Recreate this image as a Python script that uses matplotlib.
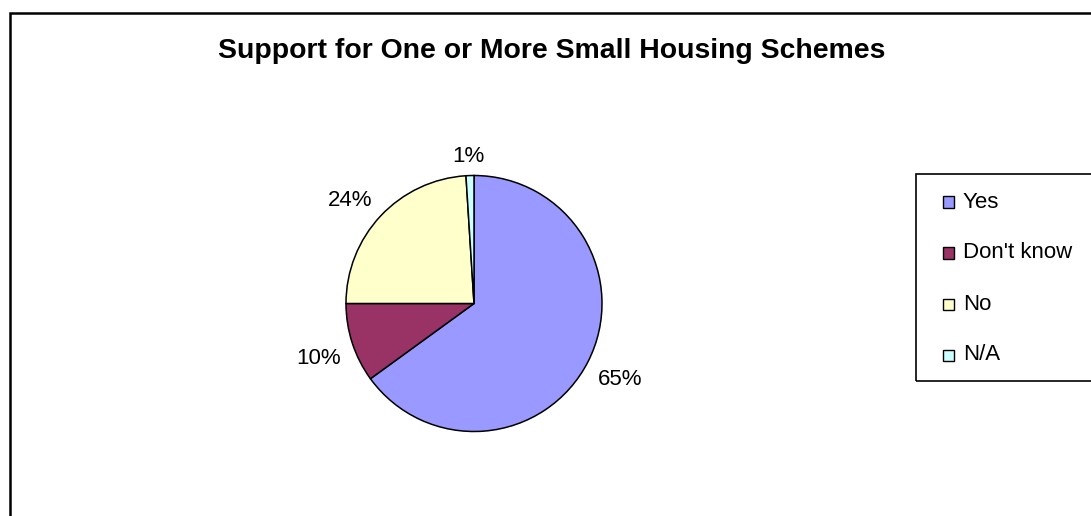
import numpy as np
import matplotlib
matplotlib.use("Agg")
import matplotlib.pyplot as plt
from matplotlib.patches import Rectangle

categories = ["Yes", "Don't know", "No", "N/A"]
shares = [65, 10, 24, 1]
colors = ["#9999FF", "#993366", "#FFFFCC", "#CCFFFF"]
title = "Support for One or More Small Housing Schemes"

plt.rcParams['font.family'] = ['Liberation Sans', 'DejaVu Sans']

W, H = 1091, 516
fig = plt.figure(figsize=(W / 100, H / 100), dpi=100)

def fx(px):
    return px / W

def fy(py):
    return (H - py) / H

# Outer chart border (runs off the right and bottom edges)
fig.add_artist(Rectangle((fx(9.5), fy(530)), fx(1100) - fx(9.5), fy(13) - fy(530),
                         transform=fig.transFigure, fill=False, edgecolor='black',
                         linewidth=1.8, clip_on=False))

fig.text(fx(552), fy(58), title, fontsize=20.4, fontweight='bold',
         ha='center', va='baseline')

# Pie
cx, cy, R = 474, 303.5, 128
ext = 1.6
label_size = 16
ax = fig.add_axes([fx(cx - ext * R), fy(cy + ext * R), 2 * ext * R / W, 2 * ext * R / H])
wedges, texts, autotexts = ax.pie(
    shares, colors=colors, startangle=90, counterclock=False,
    autopct=lambda p: f"{p:.0f}%", pctdistance=1.2,
    wedgeprops=dict(edgecolor='black', linewidth=1.1),
    textprops=dict(fontsize=label_size))
ax.set_xlim(-ext, ext)
ax.set_ylim(-ext, ext)
ax.axis('off')

# Anchor each percentage just outside its wedge; the text box corner nearest
# the pie sits on the anchor point
renderer = fig.canvas.get_renderer()
em = label_size * 100 / 72
cap_half = 0.358 * em / R
hh = 10 / R
for w, t in zip(wedges, autotexts):
    th = np.deg2rad((w.theta1 + w.theta2) / 2)
    bb = t.get_window_extent(renderer)
    hw = bb.width / 2 / R
    c, s = np.cos(th), np.sin(th)
    d = 1.09
    x = d * c + hw * np.clip(c * 3, -1, 1)
    y = d * s + hh * np.clip(s * 3, -1, 1)
    t.set_verticalalignment('baseline')
    t.set_position((x, y - cap_half))

# Legend
fig.add_artist(Rectangle((fx(916), fy(381)), fx(1100) - fx(916), fy(174) - fy(381),
                         transform=fig.transFigure, fill=False, edgecolor='black',
                         linewidth=1.2, clip_on=False))
for i, (lab, col) in enumerate(zip(categories, colors)):
    yc = 202 + i * 51
    fig.add_artist(Rectangle((fx(943), fy(yc + 5.5)), fx(954) - fx(943), fy(yc - 5.5) - fy(yc + 5.5),
                             transform=fig.transFigure, facecolor=col, edgecolor='black',
                             linewidth=1.0))
    fig.text(fx(963), fy(yc), lab, fontsize=16, ha='left', va='center')

fig.savefig("out.png", dpi=100, facecolor='white')
